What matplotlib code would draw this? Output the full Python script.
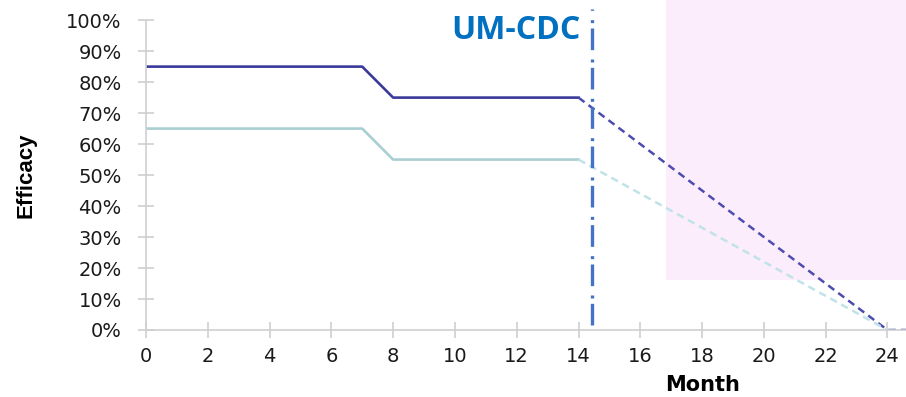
import matplotlib.pyplot as plt
from matplotlib.patches import Rectangle

# efficacy curves (percent) by month
months_solid = [0, 7, 8, 14]
high_solid = [85, 85, 75, 75]
low_solid = [65, 65, 55, 55]

months_proj = [14, 24, 24.6]
high_proj = [75, 0, 0]
low_proj = [55, 0]

cutoff_month = 14.45
x_ticks = list(range(0, 25, 2))
y_ticks = list(range(0, 101, 10))

plt.rcParams['font.family'] = ['DejaVu Sans']

fig = plt.figure(figsize=(9.06, 3.97), dpi=100)
ax = fig.add_axes([0.1611, 0.1688, 0.8389, 0.8312])
ax.set_xlim(0, 24.6)
ax.set_ylim(0, 106.5)

# shaded window on the right
ax.add_patch(Rectangle((16.83, 16), 10, 100, facecolor='#fcedfc',
                       edgecolor='none', zorder=0))

ax.plot(months_solid, high_solid, color='#3a3a9a', lw=1.9)
ax.plot(months_solid, low_solid, color='#a9cfd2', lw=1.9)
ax.plot(months_proj, high_proj, color='#4d4db0', lw=1.8, ls=(0, (3, 2)))
ax.plot(months_proj[:2], low_proj, color='#bfe3e8', lw=1.8, ls=(0, (3, 2)))

ax.plot([cutoff_month, cutoff_month], [1.5, 103.5], color='#4472c4', lw=2.4,
        ls=(0, (6.5, 1.6, 0.9, 2.8)))
ax.text(cutoff_month - 0.4, 96.8, 'UM-CDC', color='#0070c0', fontsize=23,
        fontweight='bold', ha='right', va='center', family='Open Sans')

for s in ['top', 'right']:
    ax.spines[s].set_visible(False)
ax.spines['left'].set_bounds(0, 100)
for s in ['left', 'bottom']:
    ax.spines[s].set_color('#cfcfcf')
    ax.spines[s].set_linewidth(1.2)

ax.set_xticks(x_ticks)
ax.set_yticks(y_ticks)
ax.set_yticklabels([f'{v}%' for v in y_ticks])
ax.tick_params(direction='inout', length=11, width=1.2, color='#cfcfcf',
               labelsize=14, labelcolor='#1a1a1a')
ax.tick_params(axis='x', pad=7)
ax.tick_params(axis='y', pad=12)

ax.set_xlabel('Month', fontsize=15, fontweight='bold')
ax.xaxis.set_label_coords(0.732, -0.167)
ax.xaxis.label.set_va('center')
ax.set_ylabel('Efficacy', fontsize=16, fontweight='bold', family='Liberation Sans')
ax.yaxis.set_label_coords(-0.158, 0.47)
ax.yaxis.label.set_va('center')

fig.savefig('out.png', dpi=100)
